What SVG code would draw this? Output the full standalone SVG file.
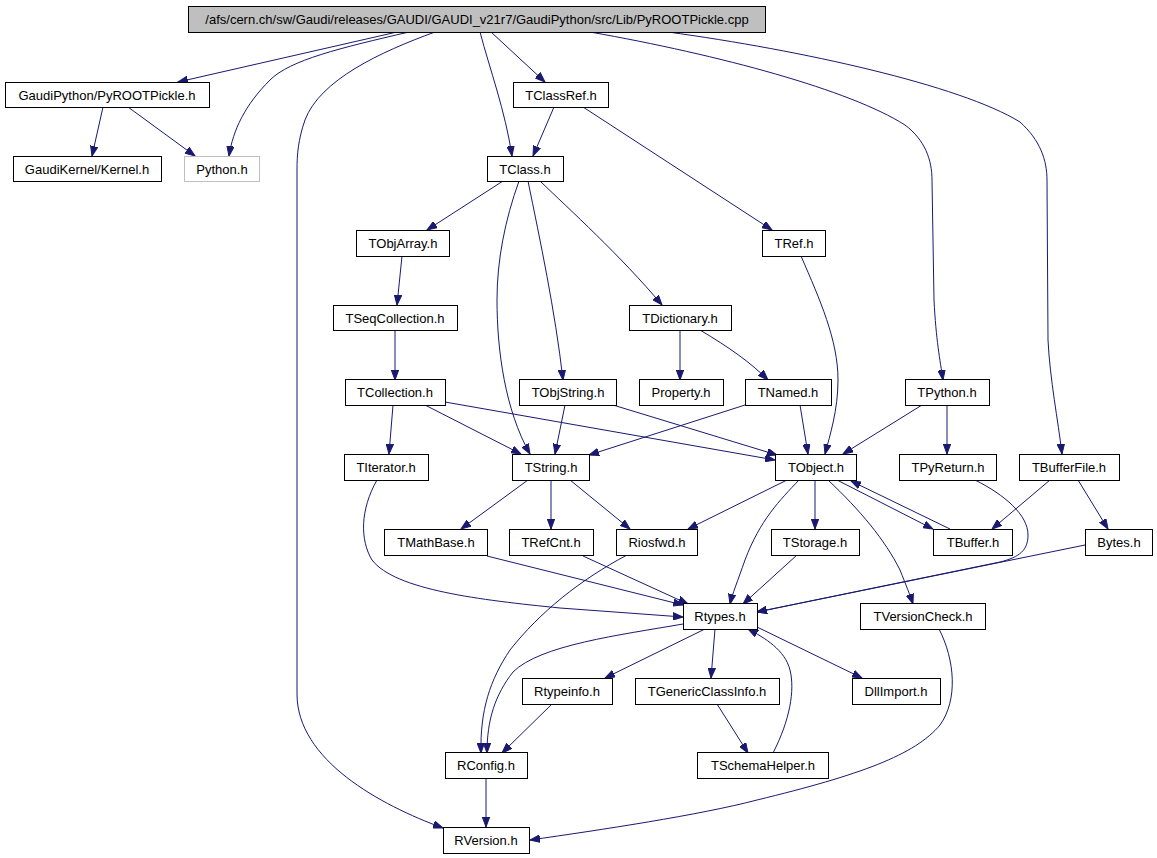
<svg xmlns="http://www.w3.org/2000/svg" width="1157" height="858" viewBox="0 0 1157 858">
<style>
.n rect{fill:#ffffff;stroke:#000000;stroke-width:1}
.n text{font-family:"Liberation Sans",Arial,sans-serif;font-size:13px;fill:#000000;text-anchor:middle}
#root rect{fill:#bfbfbf}
#python rect{stroke:#bfbfbf}
.e path{fill:none;stroke:#191970;stroke-width:1;marker-end:url(#arr)}
</style>
<defs>
<marker id="arr" markerUnits="userSpaceOnUse" markerWidth="11" markerHeight="8" refX="10" refY="4" orient="auto">
<path d="M0,0.3 L10,4 L0,7.7 z" fill="#191970" stroke="#191970" stroke-width="1"/>
</marker>
</defs>
<rect width="1157" height="858" fill="#ffffff"/>
<g class="e" id="edges">
<path d="M397,32 L178,82"/>
<path d="M409,32 C340,48 290,60 270,80 C245,105 233,130 229,156"/>
<path d="M435,32 C380,52 320,80 305,120 C298,140 297,155 297,170 L297,694 C297,760 380,805 443,828"/>
<path d="M480,32 C490,70 505,110 512,156"/>
<path d="M491,32 L545,82"/>
<path d="M590,32 C720,55 850,90 905,125 C925,140 932,160 932,180 L934,300 C936,340 940,360 943,380"/>
<path d="M668,32 C800,50 960,85 1020,122 C1040,140 1047,160 1047,180 L1048,340 C1050,380 1058,420 1062,454"/>
<path d="M103,107 L92,156"/>
<path d="M128,107 L195,156"/>
<path d="M554,107 L533,156"/>
<path d="M583,107 L772,230"/>
<path d="M503,181 L427,230"/>
<path d="M519,181 C505,220 497,260 497,300 C497,350 505,410 530,454"/>
<path d="M528,181 C540,240 555,310 563,380"/>
<path d="M540,181 C570,210 620,255 662,305"/>
<path d="M402,256 L397,305"/>
<path d="M395,330 L395,380"/>
<path d="M680,330 L680,380"/>
<path d="M700,330 C730,348 750,362 768,380"/>
<path d="M801,256 C820,300 838,340 838,380 C838,410 830,435 825,454"/>
<path d="M393,405 L389,454"/>
<path d="M425,405 L521,454"/>
<path d="M445,402 L775,460"/>
<path d="M565,405 L555,454"/>
<path d="M613,405 L777,455"/>
<path d="M745,405 L589,455"/>
<path d="M800,405 L808,454"/>
<path d="M922,405 L843,454"/>
<path d="M947,405 L947,454"/>
<path d="M1050,480 L992,529"/>
<path d="M1078,480 L1108,529"/>
<path d="M975,480 C1005,495 1028,515 1028,535 C1028,550 1020,557 1000,562 L757,612"/>
<path d="M1085,545 L757,612"/>
<path d="M787,480 L688,529"/>
<path d="M799,480 C780,500 760,520 745,560 C738,580 732,595 730,604"/>
<path d="M815,480 L815,529"/>
<path d="M837,480 L933,529"/>
<path d="M950,529 L851,481"/>
<path d="M828,480 C860,510 885,540 900,570 C906,585 910,595 913,604"/>
<path d="M528,480 L461,529"/>
<path d="M551,480 L551,529"/>
<path d="M570,480 L630,529"/>
<path d="M377,480 C360,510 360,540 372,560 C395,590 480,600 560,608 L683,617"/>
<path d="M487,556 L683,605"/>
<path d="M583,556 L688,604"/>
<path d="M627,555 C580,580 540,612 510,650 C490,680 480,710 481,753"/>
<path d="M797,555 L743,604"/>
<path d="M683,624 C620,635 540,645 513,672 C495,695 487,720 487,753"/>
<path d="M705,629 L605,678"/>
<path d="M715,629 L711,678"/>
<path d="M757,627 L862,678"/>
<path d="M717,704 L748,753"/>
<path d="M773,753 C790,720 795,690 790,670 C785,650 765,638 748,629"/>
<path d="M939,629 C955,660 958,700 940,725 C915,755 860,775 757,800 C700,815 600,830 530,840"/>
<path d="M486,778 L486,827"/>
<path d="M552,704 L502,753"/>
</g>
<g class="n" id="root"><rect x="188.5" y="6.5" width="577" height="26"/><text x="477" y="24">/afs/cern.ch/sw/Gaudi/releases/GAUDI/GAUDI_v21r7/GaudiPython/src/Lib/PyROOTPickle.cpp</text></g>
<g class="n" id="pyrootpickle_h"><rect x="5.5" y="82.5" width="204" height="25"/><text x="107" y="100">GaudiPython/PyROOTPickle.h</text></g>
<g class="n" id="tclassref"><rect x="513.5" y="82.5" width="95" height="25"/><text x="561" y="100">TClassRef.h</text></g>
<g class="n" id="kernel"><rect x="13.5" y="156.5" width="148" height="25"/><text x="87" y="174">GaudiKernel/Kernel.h</text></g>
<g class="n" id="python"><rect x="184.5" y="156.5" width="75" height="25"/><text x="222" y="174">Python.h</text></g>
<g class="n" id="tclass"><rect x="487.5" y="156.5" width="76" height="25"/><text x="525" y="174">TClass.h</text></g>
<g class="n" id="tobjarray"><rect x="356.5" y="230.5" width="93" height="26"/><text x="403" y="248">TObjArray.h</text></g>
<g class="n" id="tref"><rect x="762.5" y="230.5" width="63" height="26"/><text x="794" y="248">TRef.h</text></g>
<g class="n" id="tseqcollection"><rect x="333.5" y="305.5" width="124" height="25"/><text x="395" y="323">TSeqCollection.h</text></g>
<g class="n" id="tdictionary"><rect x="629.5" y="305.5" width="102" height="25"/><text x="680" y="323">TDictionary.h</text></g>
<g class="n" id="tcollection"><rect x="345.5" y="379.5" width="100" height="26"/><text x="395" y="397">TCollection.h</text></g>
<g class="n" id="tobjstring"><rect x="519.5" y="379.5" width="97" height="26"/><text x="568" y="397">TObjString.h</text></g>
<g class="n" id="property"><rect x="639.5" y="379.5" width="84" height="26"/><text x="681" y="397">Property.h</text></g>
<g class="n" id="tnamed"><rect x="745.5" y="379.5" width="86" height="26"/><text x="788" y="397">TNamed.h</text></g>
<g class="n" id="tpython"><rect x="905.5" y="379.5" width="84" height="26"/><text x="947" y="397">TPython.h</text></g>
<g class="n" id="titerator"><rect x="344.5" y="454.5" width="84" height="26"/><text x="386" y="472">TIterator.h</text></g>
<g class="n" id="tstring"><rect x="512.5" y="454.5" width="77" height="26"/><text x="551" y="472">TString.h</text></g>
<g class="n" id="tobject"><rect x="775.5" y="454.5" width="81" height="26"/><text x="816" y="472">TObject.h</text></g>
<g class="n" id="tpyreturn"><rect x="899.5" y="454.5" width="97" height="26"/><text x="948" y="472">TPyReturn.h</text></g>
<g class="n" id="tbufferfile"><rect x="1019.5" y="454.5" width="100" height="26"/><text x="1069" y="472">TBufferFile.h</text></g>
<g class="n" id="tmathbase"><rect x="384.5" y="529.5" width="103" height="26"/><text x="436" y="547">TMathBase.h</text></g>
<g class="n" id="trefcnt"><rect x="509.5" y="529.5" width="84" height="26"/><text x="551" y="547">TRefCnt.h</text></g>
<g class="n" id="riosfwd"><rect x="616.5" y="529.5" width="81" height="26"/><text x="657" y="547">Riosfwd.h</text></g>
<g class="n" id="tstorage"><rect x="771.5" y="529.5" width="88" height="26"/><text x="815" y="547">TStorage.h</text></g>
<g class="n" id="tbuffer"><rect x="933.5" y="529.5" width="79" height="26"/><text x="973" y="547">TBuffer.h</text></g>
<g class="n" id="bytes"><rect x="1085.5" y="529.5" width="67" height="26"/><text x="1119" y="547">Bytes.h</text></g>
<g class="n" id="rtypes"><rect x="683.5" y="603.5" width="74" height="26"/><text x="720" y="621">Rtypes.h</text></g>
<g class="n" id="tversioncheck"><rect x="860.5" y="603.5" width="125" height="26"/><text x="923" y="621">TVersionCheck.h</text></g>
<g class="n" id="rtypeinfo"><rect x="522.5" y="678.5" width="90" height="26"/><text x="567" y="696">Rtypeinfo.h</text></g>
<g class="n" id="tgenericclassinfo"><rect x="635.5" y="678.5" width="144" height="26"/><text x="707" y="696">TGenericClassInfo.h</text></g>
<g class="n" id="dllimport"><rect x="852.5" y="678.5" width="88" height="26"/><text x="896" y="696">DllImport.h</text></g>
<g class="n" id="rconfig"><rect x="445.5" y="752.5" width="82" height="26"/><text x="486" y="770">RConfig.h</text></g>
<g class="n" id="tschemahelper"><rect x="697.5" y="752.5" width="131" height="26"/><text x="763" y="770">TSchemaHelper.h</text></g>
<g class="n" id="rversion"><rect x="443.5" y="827.5" width="86" height="26"/><text x="486" y="845">RVersion.h</text></g>
</svg>
